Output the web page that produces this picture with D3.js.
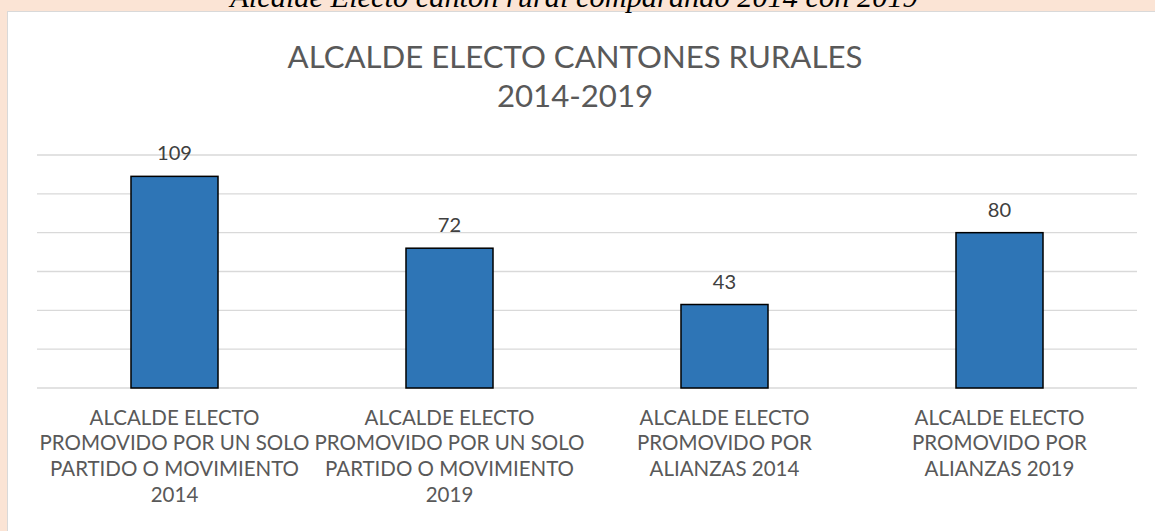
<!DOCTYPE html>
<html>
<head>
<meta charset="utf-8">
<script src="https://cdn.jsdelivr.net/npm/d3@7"></script>
<style>
  html, body { margin: 0; padding: 0; background: #FBE4D5; }
  svg { display: block; }
</style>
</head>
<body>
<svg id="chart" width="1155" height="531"></svg>
<script>
// ---- data ----
const categories = [
  "ALCALDE ELECTO PROMOVIDO POR UN SOLO PARTIDO O MOVIMIENTO 2014",
  "ALCALDE ELECTO PROMOVIDO POR UN SOLO PARTIDO O MOVIMIENTO 2019",
  "ALCALDE ELECTO PROMOVIDO POR ALIANZAS 2014",
  "ALCALDE ELECTO PROMOVIDO POR ALIANZAS 2019"
];
const categoryLines = [
  ["ALCALDE ELECTO", "PROMOVIDO POR UN SOLO", "PARTIDO O MOVIMIENTO", "2014"],
  ["ALCALDE ELECTO", "PROMOVIDO POR UN SOLO", "PARTIDO O MOVIMIENTO", "2019"],
  ["ALCALDE ELECTO", "PROMOVIDO POR", "ALIANZAS 2014"],
  ["ALCALDE ELECTO", "PROMOVIDO POR", "ALIANZAS 2019"]
];
const values = [109, 72, 43, 80];
const yTicks = [0, 20, 40, 60, 80, 100, 120];
const titleLines = ["ALCALDE ELECTO CANTONES RURALES", "2014-2019"];
const captionText = "Alcalde Electo cantón rural comparando 2014 con 2019";

// ---- layout ----
const W = 1155, H = 531;
const svg = d3.select("#chart");
const SANS = "Lato, 'Open Sans', sans-serif";

// helper: font size so that a string reaches a target width
function fitSize(str, family, targetW, style) {
  const t = svg.append("text").attr("font-family", family)
    .attr("font-style", style || "normal").attr("font-size", 100).text(str);
  const w = t.node().getComputedTextLength();
  t.remove();
  return 100 * targetW / w;
}

// background bands & chart area
svg.append("rect").attr("x", 0).attr("y", 0).attr("width", W).attr("height", H).attr("fill", "#FBE4D5");
svg.append("rect").attr("x", 7.5).attr("y", 11.5).attr("width", W).attr("height", H)
  .attr("fill", "#fff").attr("stroke", "#D9D9D9").attr("stroke-width", 1);

// caption (cut at top, as in the reference)
const capSize = fitSize(captionText, "'Liberation Serif', serif", 688, "italic");
svg.append("text").attr("x", 574).attr("y", 7).attr("text-anchor", "middle")
  .attr("font-family", "'Liberation Serif', serif").attr("font-style", "italic")
  .attr("font-size", capSize).attr("fill", "#000").text(captionText);

// scales
const x = d3.scaleBand().domain(categories).range([37, 1137])
  .paddingInner(0.6836).paddingOuter(0.3418);
const y = d3.scaleLinear().domain([0, 120]).range([388, 155]);

// gridlines
svg.append("g").selectAll("line").data(yTicks).join("line")
  .attr("x1", 37).attr("x2", 1137)
  .attr("y1", d => y(d)).attr("y2", d => y(d))
  .attr("stroke", "#D9D9D9").attr("stroke-width", 1.3);

// bars
svg.append("g").selectAll("rect").data(values).join("rect")
  .attr("x", (d, i) => x(categories[i]))
  .attr("y", d => y(d))
  .attr("width", x.bandwidth())
  .attr("height", d => y(0) - y(d))
  .attr("fill", "#2E75B6").attr("stroke", "#000").attr("stroke-width", 1.5);

// data labels
const lblSize = fitSize("109", SANS, 35);
svg.append("g").selectAll("text").data(values).join("text")
  .attr("x", (d, i) => x(categories[i]) + x.bandwidth() / 2)
  .attr("y", d => y(d) - 16)
  .attr("text-anchor", "middle").attr("font-family", SANS)
  .attr("font-size", lblSize).attr("fill", "#404040").text(d => d);

// category labels
const catSize = fitSize("PROMOVIDO POR UN SOLO", SANS, 270);
const cg = svg.append("g").selectAll("text").data(categories).join("text")
  .attr("text-anchor", "middle").attr("font-family", SANS)
  .attr("font-size", catSize).attr("fill", "#595959");
cg.each(function (d, i) {
  const cx = x(d) + x.bandwidth() / 2;
  d3.select(this).selectAll("tspan").data(categoryLines[i]).join("tspan")
    .attr("x", cx).attr("y", (l, j) => 424.5 + j * 25.7).text(l => l);
});

// title
const tSize = fitSize(titleLines[0], SANS, 575);
svg.append("text").attr("text-anchor", "middle").attr("font-family", SANS)
  .attr("font-size", tSize).attr("fill", "#595959")
  .selectAll("tspan").data(titleLines).join("tspan")
  .attr("x", 575).attr("y", (l, j) => 68 + j * 38.5).text(l => l);
</script>
</body>
</html>
